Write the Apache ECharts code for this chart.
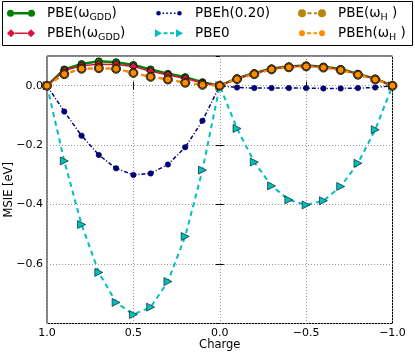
<!DOCTYPE html>
<html>
<head>
<meta charset="utf-8">
<script src="https://cdn.jsdelivr.net/npm/echarts@6/dist/echarts.min.js"></script>
<style>
  html, body { margin: 0; padding: 0; background: #fff; }
  #chart { width: 415px; height: 353px; }
</style>
</head>
<body>
<div id="chart"></div>
<script>
// charge axis runs from +1 down to -1
const charges = [1.0, 0.9, 0.8, 0.7, 0.6, 0.5, 0.4, 0.3, 0.2, 0.1, 0.0,
  -0.1, -0.2, -0.3, -0.4, -0.5, -0.6, -0.7, -0.8, -0.9, -1.0]
const pbeGdd = [0, 0.055, 0.073, 0.082, 0.079, 0.070, 0.055, 0.040, 0.029, 0.012, 0,
  0.025, 0.042, 0.058, 0.065, 0.068, 0.064, 0.056, 0.040, 0.024, 0]
const pbehGdd = [0, 0.051, 0.067, 0.072, 0.071, 0.065, 0.049, 0.036, 0.024, 0.009, 0,
  0.024, 0.041, 0.057, 0.064, 0.067, 0.063, 0.055, 0.039, 0.023, 0]
const pbeh020 = [0, -0.087, -0.168, -0.233, -0.278, -0.300, -0.295, -0.265, -0.207, -0.118, 0,
  -0.006, -0.008, -0.008, -0.008, -0.008, -0.009, -0.009, -0.008, -0.006, 0]
const pbe0 = [0, -0.253, -0.467, -0.628, -0.729, -0.770, -0.745, -0.659, -0.507, -0.284, 0,
  -0.144, -0.257, -0.337, -0.384, -0.401, -0.387, -0.339, -0.261, -0.148, 0]
const pbeWh = [0, 0.039, 0.057, 0.059, 0.057, 0.043, 0.030, 0.021, 0.010, 0.003, 0,
  0.022, 0.039, 0.055, 0.062, 0.065, 0.061, 0.053, 0.037, 0.021, 0]
const pbehWh = [0, 0.039, 0.057, 0.059, 0.057, 0.043, 0.030, 0.021, 0.010, 0.003, 0,
  0.022, 0.039, 0.055, 0.062, 0.065, 0.061, 0.053, 0.037, 0.021, 0]
const xTicks = [1.0, 0.5, 0.0, -0.5, -1.0]

const pairs = (vals) => charges.map((c, i) => [c, vals[i]])
const minus = (v) => v.toFixed(1).replace('-', '\u2212')

// legend icons: marker - line - marker, like matplotlib handles
const circ = (cx, r) => `M${cx - r},5a${r},${r} 0 1,0 ${2 * r},0a${r},${r} 0 1,0 ${-2 * r},0Z`
const bar = (x1, x2, t) => `M${x1},${5 - t / 2}L${x2},${5 - t / 2}L${x2},${5 + t / 2}L${x1},${5 + t / 2}Z`
const dashes = (x1, x2, t, on, off) => {
  let s = ''
  for (let x = x1; x < x2; x += on + off) s += bar(x, Math.min(x + on, x2), t)
  return s
}
const frame = 'M0,0L0.01,0L0.01,0.01ZM28,10L27.99,10L27.99,9.99Z'
const icons = {
  green: 'path://' + frame + circ(3.5, 3.5) + bar(7, 21, 2.5) + circ(24.5, 3.5),
  red: 'path://' + frame + 'M0,5L4,1L8,5L4,9Z' + bar(8, 20, 1.5) + 'M20,5L24,1L28,5L24,9Z',
  navy: 'path://' + frame + circ(3.5, 2.3) + dashes(7.5, 20.5, 1.4, 1.6, 2.2) + circ(24.5, 2.3),
  cyan: 'path://' + frame + 'M0,1L7,5L0,9Z' + dashes(8.5, 20, 2, 4, 2.5) + 'M21,1L28,5L21,9Z',
  gold: 'path://' + frame + circ(4, 4) + dashes(9.5, 19, 2, 4, 2.5) + circ(24, 4),
  orange: 'path://' + frame + circ(4, 3) + dashes(9, 19, 2, 4, 2.5) + circ(24, 3),
}

const labelText = {
  'PBE(ωGDD)': 'PBE(ω{s|GDD})',
  'PBEh(ωGDD)': 'PBEh(ω{s|GDD})',
  'PBE(ωH)': 'PBE(ω{s|H} )',
  'PBEh(ωH)': 'PBEh(ω{s|H} )',
}
const legendText = {
  color: '#000',
  fontFamily: 'DejaVu Sans',
  fontSize: 13.5,
  lineHeight: 20,
  padding: [0, 0, 0, 7],
  rich: {
    s: { fontFamily: 'DejaVu Sans', fontSize: 9.5, lineHeight: 11, padding: [8, 0, 0, 0], color: '#000' },
  },
}
const makeLegend = (left, items) => ({
  orient: 'vertical',
  left: left,
  top: 3.3,
  padding: 0,
  itemGap: 0,
  itemWidth: 28,
  itemHeight: 10,
  selectedMode: false,
  itemStyle: { borderWidth: 0 },
  textStyle: legendText,
  formatter: (name) => labelText[name] || name,
  data: items,
})

const font = 'DejaVu Sans'
const tickStyle = { show: true, inside: true, length: 4, lineStyle: { color: '#000', width: 1 } }
const gridLine = { show: true, lineStyle: { color: '#999', type: [1, 2], width: 1 } }
const edge = { borderColor: '#000', borderWidth: 0.8 }

const options = {
  animation: false,
  backgroundColor: '#fff',
  graphic: [{
    type: 'rect',
    shape: { x: 2.5, y: 1.5, width: 410, height: 44 },
    style: { fill: 'none', stroke: '#000', lineWidth: 1 },
    z: 0,
  }],
  legend: [
    makeLegend(7, [{ name: 'PBE(ωGDD)', icon: icons.green }, { name: 'PBEh(ωGDD)', icon: icons.red }]),
    makeLegend(155, [{ name: 'PBEh(0.20)', icon: icons.navy }, { name: 'PBE0', icon: icons.cyan }]),
    makeLegend(298, [{ name: 'PBE(ωH)', icon: icons.gold }, { name: 'PBEh(ωH)', icon: icons.orange }]),
  ],
  grid: {
    left: 47, top: 56, width: 345.5, height: 267.5,
    containLabel: false, outerBoundsMode: 'none',
    show: true, borderColor: '#000', borderWidth: 1, backgroundColor: 'transparent',
  },
  xAxis: [
    {
      type: 'value', min: -1, max: 1, interval: 0.5, inverse: true,
      name: 'Charge', nameLocation: 'middle', nameGap: 16, nameMoveOverlap: false,
      nameTextStyle: { fontFamily: font, fontSize: 11.5, color: '#000' },
      axisLine: { show: false },
      axisTick: tickStyle,
      splitLine: gridLine,
      axisLabel: {
        margin: 4, fontFamily: font, fontSize: 11, color: '#000',
        formatter: (v) => xTicks.includes(v) ? minus(v) : '',
      },
    },
    {
      type: 'value', position: 'top', min: -1, max: 1, interval: 0.5, inverse: true,
      axisLine: { show: false }, axisTick: tickStyle, axisLabel: { show: false }, splitLine: { show: false },
    },
  ],
  yAxis: [
    {
      type: 'value', min: -0.8, max: 0.1, interval: 0.2,
      name: 'MSIE [eV]', nameLocation: 'middle', nameGap: 32, nameMoveOverlap: false,
      nameTextStyle: { fontFamily: font, fontSize: 11.5, color: '#000' },
      axisLine: { show: false },
      axisTick: tickStyle,
      splitLine: gridLine,
      axisLabel: {
        margin: 4, fontFamily: font, fontSize: 11, color: '#000',
        showMinLabel: false, showMaxLabel: false,
        formatter: (v) => minus(v),
      },
    },
    {
      type: 'value', position: 'right', min: -0.8, max: 0.1, interval: 0.2,
      axisLine: { show: false }, axisTick: tickStyle, axisLabel: { show: false }, splitLine: { show: false },
    },
  ],
  series: [
    {
      name: 'PBE(ωGDD)', type: 'line', data: pairs(pbeGdd),
      symbol: 'circle', symbolSize: 7,
      lineStyle: { color: '#008000', width: 2.5 },
      itemStyle: Object.assign({ color: '#008000' }, edge),
    },
    {
      name: 'PBEh(ωGDD)', type: 'line', data: pairs(pbehGdd),
      symbol: 'diamond', symbolSize: 8,
      lineStyle: { color: '#dc143c', width: 1.5 },
      itemStyle: Object.assign({ color: '#dc143c' }, edge),
    },
    {
      name: 'PBEh(0.20)', type: 'line', data: pairs(pbeh020),
      symbol: 'circle', symbolSize: 5.5,
      lineStyle: { color: '#000080', width: 1.5, type: [4, 2, 1, 2] },
      itemStyle: { color: '#000080', borderColor: '#000040', borderWidth: 0.5 },
    },
    {
      name: 'PBE0', type: 'line', data: pairs(pbe0),
      symbol: 'triangle', symbolSize: 8, symbolRotate: -90,
      lineStyle: { color: '#00bfbf', width: 2, type: [5, 4] },
      itemStyle: { color: '#00bfbf', borderColor: '#000', borderWidth: 0.6 },
    },
    {
      name: 'PBE(ωH)', type: 'line', data: pairs(pbeWh),
      symbol: 'circle', symbolSize: 9,
      lineStyle: { color: '#b8860b', width: 2, type: [5, 4] },
      itemStyle: Object.assign({ color: '#b8860b' }, edge),
    },
    {
      name: 'PBEh(ωH)', type: 'line', data: pairs(pbehWh),
      symbol: 'circle', symbolSize: 7,
      lineStyle: { color: '#ff8c00', width: 2, type: [5, 4] },
      itemStyle: Object.assign({ color: '#ff8c00' }, edge),
    },
  ],
}

const chart = echarts.init(document.getElementById('chart'), null, { renderer: 'canvas' })
chart.setOption(options)
window.addEventListener('resize', function () {
  chart && chart.resize()
})
</script>
</body>
</html>
